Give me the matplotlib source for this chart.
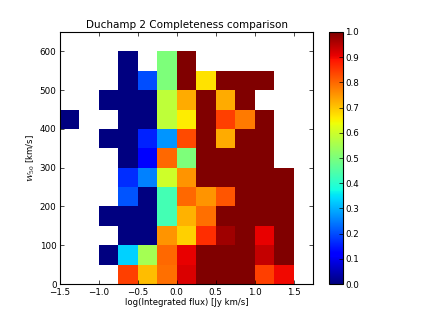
#!/usr/bin/env python3
# Duchamp 2 completeness: fraction detected per (flux, W50) bin

import numpy as np
import matplotlib
matplotlib.use("Agg")
import matplotlib.pyplot as plt

# bin edges
flux_edges = [-1.5, -1.25, -1.0, -0.75, -0.5, -0.25, 0.0, 0.25, 0.5, 0.75, 1.0, 1.25, 1.5]
w50_edges = [0, 50, 100, 150, 200, 250, 300, 350, 400, 450, 500, 550, 600]

n = np.nan
# completeness per W50 bin (bottom row first), one value per flux bin
row_0_50 = [n, n, n, 0.84, 0.71, 0.79, 0.92, 1.0, 1.0, 1.0, 0.84, 0.90]
row_50_100 = [n, n, 0.0, 0.33, 0.55, 0.80, 0.91, 1.0, 1.0, 1.0, 0.94, 1.0]
row_100_150 = [n, n, n, 0.0, 0.0, 0.75, 0.69, 0.86, 0.97, 1.0, 0.91, 1.0]
row_150_200 = [n, n, 0.0, 0.0, 0.0, 0.43, 0.72, 0.79, 1.0, 1.0, 1.0, 1.0]
row_200_250 = [n, n, n, 0.21, 0.0, 0.43, 0.80, 0.75, 0.82, 1.0, 1.0, 1.0]
row_250_300 = [n, n, n, 0.17, 0.25, 0.60, 0.75, 1.0, 1.0, 1.0, 1.0, 1.0]
row_300_350 = [n, n, n, 0.0, 0.12, 0.80, 0.50, 1.0, 1.0, 1.0, 1.0, n]
row_350_400 = [n, n, 0.0, 0.0, 0.16, 0.27, 0.83, 1.0, 0.73, 1.0, 1.0, n]
row_400_450 = [0.0, n, n, 0.0, 0.0, 0.58, 0.66, 1.0, 0.84, 0.78, 1.0, n]
row_450_500 = [n, n, 0.0, 0.0, 0.0, 0.58, 0.73, 1.0, 0.73, 1.0, n, n]
row_500_550 = [n, n, n, 0.0, 0.20, 0.50, 1.0, 0.67, 1.0, 1.0, 1.0, n]
row_550_600 = [n, n, n, 0.0, n, 0.50, 1.0, n, n, n, n, n]

rows = [row_0_50, row_50_100, row_100_150, row_150_200, row_200_250, row_250_300,
        row_300_350, row_350_400, row_400_450, row_450_500, row_500_550, row_550_600]
comp = np.ma.masked_invalid(np.array(rows))

plt.rcParams["xtick.direction"] = "in"
plt.rcParams["ytick.direction"] = "in"
plt.rcParams["mathtext.fontset"] = "dejavuserif"

fig = plt.figure(figsize=(4.21, 3.16), dpi=100)
ax = fig.add_axes([0.1425, 0.101, 0.601, 0.798])
cax = fig.add_axes([0.781, 0.101, 0.033, 0.798])

mesh = ax.pcolormesh(flux_edges, w50_edges, comp, cmap="jet", vmin=0, vmax=1)
ax.set_xlim(-1.5, 1.75)
ax.set_ylim(0, 650)
ax.set_xticks([-1.5, -1.0, -0.5, 0.0, 0.5, 1.0, 1.5])
ax.set_yticks([0, 100, 200, 300, 400, 500, 600])
ax.tick_params(labelsize=6.3, top=True, right=True, length=3, width=0.5)
ax.tick_params(axis="x", pad=3)
ax.tick_params(axis="y", pad=2.5)
for s in ax.spines.values():
    s.set_linewidth(0.8)
ax.set_xlabel("log(Integrated flux) [Jy km/s]", fontsize=6.1, labelpad=0.5)
ax.set_ylabel(r"$W_{50}$ [km/s]", fontsize=6.1, labelpad=2)
ax.set_title("Duchamp 2 Completeness comparison", fontsize=7.5, pad=3)

cb = fig.colorbar(mesh, cax=cax, ticks=np.arange(0, 1.01, 0.1))
cb.ax.tick_params(labelsize=6.3, length=3, width=0.5, pad=2)
cb.ax.set_yticklabels([f"{t:.1f}" for t in np.arange(0, 1.01, 0.1)])
cb.outline.set_linewidth(0.8)

fig.savefig("out.png", dpi=100)
print("saved out.png")
